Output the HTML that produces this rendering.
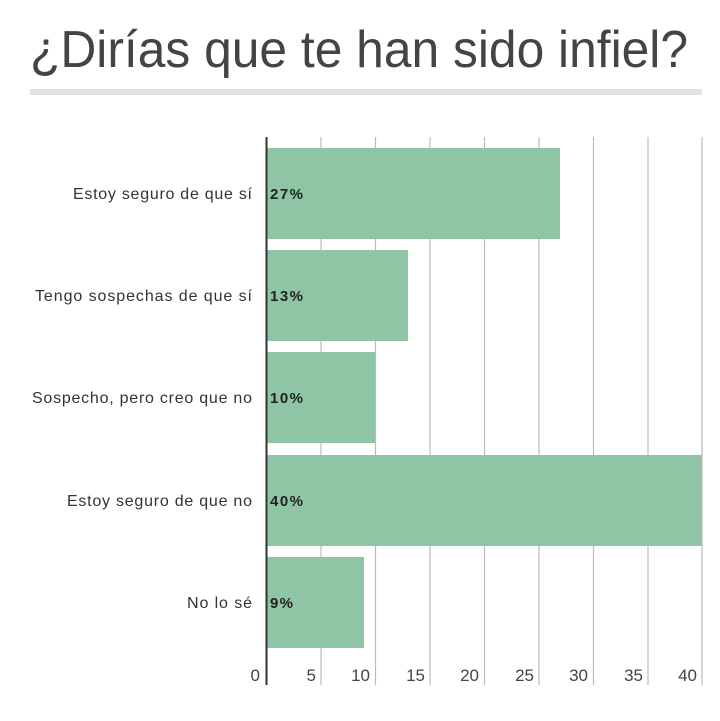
<!DOCTYPE html>
<html><head><meta charset="utf-8"><style>html,body{margin:0;padding:0;background:#fff}</style></head>
<body>
<svg width="720" height="716" xmlns="http://www.w3.org/2000/svg" font-family="Liberation Sans, sans-serif">
<rect width="720" height="716" fill="#fff"/>
<text x="30" y="67" font-size="52" fill="#444" textLength="658" lengthAdjust="spacingAndGlyphs">¿Dirías que te han sido infiel?</text>
<rect x="30" y="89" width="672" height="6" fill="#e2e2e2"/>
<g stroke="#bbb" stroke-width="1.2">
<line x1="321" y1="137" x2="321" y2="685"/>
<line x1="375.5" y1="137" x2="375.5" y2="685"/>
<line x1="430" y1="137" x2="430" y2="685"/>
<line x1="484.5" y1="137" x2="484.5" y2="685"/>
<line x1="539" y1="137" x2="539" y2="685"/>
<line x1="593.5" y1="137" x2="593.5" y2="685"/>
<line x1="648" y1="137" x2="648" y2="685"/>
<line x1="702" y1="137" x2="702" y2="685"/>
</g>
<g fill="#8fc4a5">
<rect x="266" y="148" width="294" height="91"/>
<rect x="266" y="250" width="142" height="91"/>
<rect x="266" y="352" width="109" height="91"/>
<rect x="266" y="455" width="436" height="91"/>
<rect x="266" y="557" width="98" height="91"/>
</g>
<line x1="266.5" y1="137" x2="266.5" y2="685" stroke="#333" stroke-width="2"/>
<g font-size="16" fill="#333" lengthAdjust="spacingAndGlyphs">
<text x="73" y="199" textLength="179">Estoy seguro de que sí</text>
<text x="35" y="301" textLength="217">Tengo sospechas de que sí</text>
<text x="32" y="403" textLength="220">Sospecho, pero creo que no</text>
<text x="67" y="506" textLength="185">Estoy seguro de que no</text>
<text x="187" y="608" textLength="65">No lo sé</text>
</g>
<g font-size="15" font-weight="bold" fill="#222">
<text x="270" y="199" textLength="33">27%</text>
<text x="270" y="301" textLength="33">13%</text>
<text x="270" y="403" textLength="33">10%</text>
<text x="270" y="506" textLength="33">40%</text>
<text x="270" y="608" textLength="23">9%</text>
</g>
<g font-size="17" fill="#444" text-anchor="end">
<text x="260" y="681">0</text>
<text x="316" y="681">5</text>
<text x="370" y="681">10</text>
<text x="425" y="681">15</text>
<text x="479" y="681">20</text>
<text x="534" y="681">25</text>
<text x="588" y="681">30</text>
<text x="643" y="681">35</text>
<text x="697" y="681">40</text>
</g>
</svg>
</body></html>
